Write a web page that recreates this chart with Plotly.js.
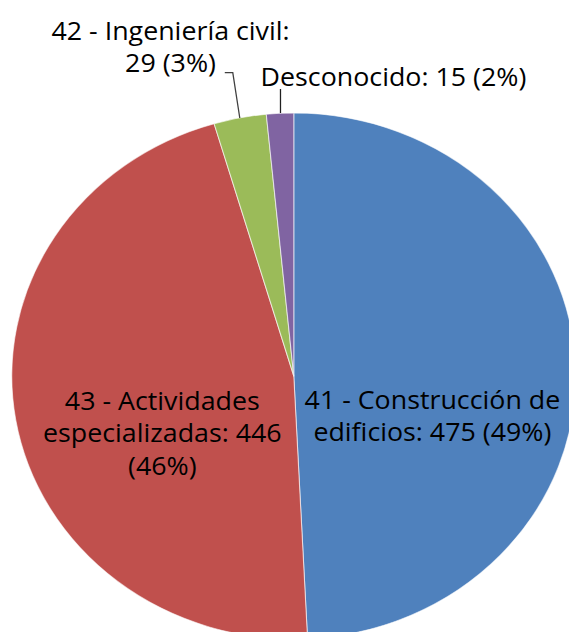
<!DOCTYPE html>
<html>
<head>
<meta charset="utf-8">
<script src="https://cdn.plot.ly/plotly-3.0.1.min.js"></script>
<style>
  html, body { margin: 0; padding: 0; background: #ffffff; overflow: hidden; width: 569px; height: 632px; }
  #chart { width: 560px; height: 700px; transform: scaleX(1.0722); transform-origin: 0 0; }
</style>
</head>
<body>
<div id="chart"></div>
<script>
// ---- data ----
const categories = ["41 - Construcción de edificios", "43 - Actividades especializadas", "42 - Ingeniería civil", "Desconocido"];
const values = [475, 446, 29, 15];
const colors = ["#4F81BD", "#C0504D", "#9BBB59", "#8064A2"];
// label text with the reference's line breaks
const displayNames = ["41 - Construcción de<br>edificios", "43 - Actividades<br>especializadas", "42 - Ingeniería civil", "Desconocido"];
const valueSep = [" ", " ", "<br>", " "];
const pctSep = [" ", "<br>", " ", " "];

// ---- geometry (unscaled px; page is stretched horizontally by SX) ----
const SX = 1.0722;
const W = 560, H = 700;
const R = 263;
const CX = 294 / SX, CY = 376;
const M = { l: CX - R, t: CY - R, r: W - (CX + R), b: H - (CY + R) };
const PW = 2 * R, PH = 2 * R;
function px(xScreen) { return (xScreen / SX - M.l) / PW; }
function py(yScreen) { return 1 - (yScreen - M.t) / PH; }

const total = values.reduce((a, b) => a + b, 0);
const texts = values.map((v, i) => displayNames[i] + ":" + valueSep[i] + v + pctSep[i] + "(" + Math.round(v / total * 100) + "%)");

// label placement (screen px)
const labelPos = [[432.5, 415], [163, 432], [171, 46], [394, 76.5]];

const fontSpec = { family: "Open Sans, sans-serif", size: 25, color: "#000000" };

const annotations = texts.map((t, i) => ({
  text: t, xref: "paper", yref: "paper",
  x: px(labelPos[i][0]), y: py(labelPos[i][1]),
  xanchor: "center", yanchor: "middle", showarrow: false, align: "center",
  font: fontSpec
}));

const shapes = [
  { type: "path", xref: "paper", yref: "paper",
    path: "M " + px(225) + " " + py(72.7) + " L " + px(233) + " " + py(72.7) + " L " + px(240) + " " + py(118),
    line: { color: "#404040", width: 1.2 } },
  { type: "line", xref: "paper", yref: "paper",
    x0: px(280.7), y0: py(89), x1: px(280.7), y1: py(113),
    line: { color: "#202020", width: 1.2 } }
];

const trace = {
  type: "pie",
  labels: categories,
  values: values,
  sort: false,
  direction: "clockwise",
  rotation: 0,
  marker: { colors: colors, line: { color: "rgba(255,255,255,0.6)", width: 1 } },
  textinfo: "none",
  hoverinfo: "none",
  showlegend: false
};

const layout = {
  width: W, height: H,
  margin: M,
  paper_bgcolor: "#ffffff",
  plot_bgcolor: "#ffffff",
  showlegend: false,
  annotations: annotations,
  shapes: shapes
};

Plotly.newPlot("chart", [trace], layout, { displayModeBar: false, staticPlot: true });
</script>
</body>
</html>
